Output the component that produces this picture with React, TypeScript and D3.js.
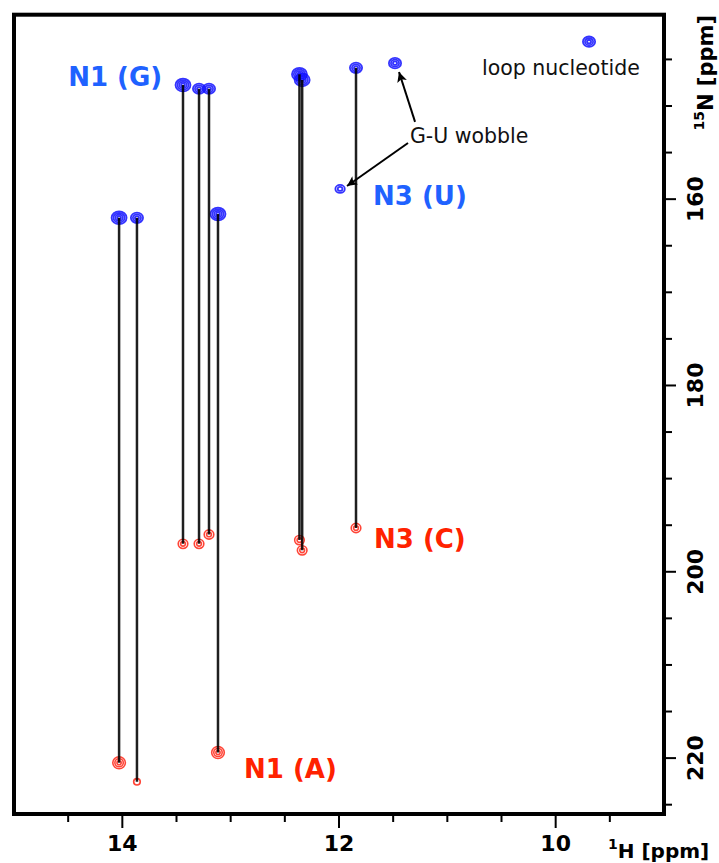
import React from 'react';
import * as d3 from 'd3';

// ---- Data (ppm) ----
// Base-pair cross peaks: donor (blue, N1 G / N3 U) and acceptor (red, N3 C / N1 A)
const pairH = [14.03, 13.865, 13.44, 13.292, 13.2, 13.117, 12.365, 12.34, 11.843];
const donorN = [162.0, 162.0, 147.75, 148.15, 148.15, 161.6, 146.6, 147.2, 145.9];
const acceptorN = [220.5, 222.55, 197.0, 197.0, 196.0, 219.4, 196.6, 197.7, 195.3];
const donorLevels = [4, 3, 4, 3, 3, 4, 4, 4, 3];
const acceptorLevels = [3, 1, 2, 2, 2, 3, 2, 2, 2];

// Unpaired donor peaks: G-U wobble (U N3), G-U wobble (G N1), loop nucleotide
const unpairedH = [11.99, 11.483, 9.692];
const unpairedN = [158.9, 145.4, 143.1];
const unpairedLevels = [2, 3, 3];

// Axes
const xDomain = [15.0, 9.0];
const yDomain = [140.2, 226.0];
const xTickLabels = [14, 12, 10];
const xMinorTicks = [9.5, 10, 10.5, 11, 11.5, 12, 12.5, 13, 13.5, 14, 14.5];
const yTickLabels = [160, 180, 200, 220];
const yMinorTicks = [145, 150, 155, 160, 165, 170, 175, 180, 185, 190, 195, 200, 205, 210, 215, 220, 225];

// Annotations
const bigLabels = ['N1 (G)', 'N3 (U)', 'N3 (C)', 'N1 (A)'];
const bigLabelH = [14.5, 11.686, 11.677, 12.877];
const bigLabelN = [147.85, 160.6, 197.4, 222.1];
const bigLabelKind = ['donor', 'donor', 'acceptor', 'acceptor'];

const noteLabels = ['loop nucleotide', 'G-U wobble'];
const noteH = [10.68, 11.345];
const noteN = [146.67, 154.0];

const arrowFromH = [11.298, 11.363];
const arrowFromN = [151.71, 153.97];
const arrowToH = [11.446, 11.926];
const arrowToN = [146.35, 158.59];

const BLUE = '#1010ff';
const RED = '#ff2414';
const LABEL_BLUE = '#1f62ff';
const LABEL_RED = '#ff2200';

function Peak({ cx, cy, levels, color, small }: { cx: number; cy: number; levels: number; color: string; small?: boolean }) {
  const rxOuter = small ? 1.8 + 1.5 * levels : 1.9 + 1.4 * levels;
  const ryOuter = small ? 1.8 + 1.4 * levels : 1.6 + 1.2 * levels;
  const rings = d3.range(levels);
  return (
    <g>
      {rings.map((i) => (
        <ellipse
          key={i}
          cx={cx}
          cy={cy}
          rx={Math.max(1, (rxOuter * (levels - i)) / levels)}
          ry={Math.max(1, (ryOuter * (levels - i)) / levels)}
          fill="none"
          stroke={color}
          strokeWidth={small ? 1.6 : 1.8}
          opacity={0.85}
        />
      ))}
    </g>
  );
}

export default function App() {
  const W = 719;
  const H = 863;
  const left = 14;
  const right = 664;
  const top = 14.7;
  const bottom = 814;
  const x = d3.scaleLinear().domain(xDomain).range([left, right]);
  const y = d3.scaleLinear().domain(yDomain).range([top, bottom]);
  const font = "'DejaVu Sans', Verdana, sans-serif";

  return (
    <svg width={W} height={H} style={{ position: 'absolute', left: 0, top: 0, background: '#fff' }} fontFamily={font}>
      <defs>
        <marker id="ah" viewBox="0 0 10 10" refX="10" refY="5" markerWidth="12" markerHeight="10" markerUnits="userSpaceOnUse" orient="auto">
          <path d="M0,0 L10,5 L0,10 L2.5,5 z" fill="#000" />
        </marker>
      </defs>

      {/* peaks */}
      {pairH.map((h, i) => (
        <Peak key={'d' + i} cx={x(h)} cy={y(donorN[i])} levels={donorLevels[i]} color={BLUE} />
      ))}
      {pairH.map((h, i) => (
        <Peak key={'a' + i} cx={x(h)} cy={y(acceptorN[i])} levels={acceptorLevels[i]} color={RED} small />
      ))}
      {unpairedH.map((h, i) => (
        <Peak key={'u' + i} cx={x(h)} cy={y(unpairedN[i])} levels={unpairedLevels[i]} color={BLUE} />
      ))}

      {/* connecting lines */}
      {pairH.map((h, i) => (
        <line key={'l' + i} x1={x(h)} x2={x(h)} y1={y(donorN[i])} y2={y(acceptorN[i])} stroke="#000" strokeWidth={2.5} strokeOpacity={0.88} />
      ))}

      {/* arrows */}
      {arrowFromH.map((h, i) => (
        <line key={'ar' + i} x1={x(h)} y1={y(arrowFromN[i])} x2={x(arrowToH[i])} y2={y(arrowToN[i])} stroke="#000" strokeWidth={2} markerEnd="url(#ah)" />
      ))}

      {/* labels */}
      {bigLabels.map((t, i) => (
        <text key={'bl' + i} x={x(bigLabelH[i])} y={y(bigLabelN[i])} fontSize={26} fontWeight="bold" fill={bigLabelKind[i] === 'donor' ? LABEL_BLUE : LABEL_RED}>
          {t}
        </text>
      ))}
      {noteLabels.map((t, i) => (
        <text key={'nl' + i} x={x(noteH[i])} y={y(noteN[i])} fontSize={20.5} fill="#111">
          {t}
        </text>
      ))}

      {/* frame */}
      <rect x={left} y={top} width={right - left} height={bottom - top} fill="none" stroke="#000" strokeWidth={4} />

      {/* x axis ticks */}
      {xMinorTicks.map((t) => {
        const major = xTickLabels.includes(t);
        return <line key={'xt' + t} x1={x(t)} x2={x(t)} y1={bottom} y2={bottom + (major ? 14 : 8)} stroke="#000" strokeWidth={2} />;
      })}
      {xTickLabels.map((t) => (
        <text key={'xl' + t} x={x(t)} y={851} textAnchor="middle" fontSize={22} fontWeight="bold" fill="#000">
          {t}
        </text>
      ))}
      <text x={608} y={858} fontWeight="bold" fill="#000">
        <tspan fontSize={14} dy={-9}>1</tspan>
        <tspan fontSize={20} dy={9}>H [ppm]</tspan>
      </text>

      {/* y axis ticks */}
      {yMinorTicks.map((t) => {
        const major = yTickLabels.includes(t);
        return <line key={'yt' + t} x1={right} x2={right + (major ? 12 : 8)} y1={y(t)} y2={y(t)} stroke="#000" strokeWidth={2} />;
      })}
      {yTickLabels.map((t) => (
        <text key={'yl' + t} transform={`translate(703,${y(t)}) rotate(-90)`} textAnchor="middle" fontSize={22} fontWeight="bold" fill="#000">
          {t}
        </text>
      ))}
      <text transform={`translate(713,15) rotate(-90)`} textAnchor="end" fontWeight="bold" fill="#000">
        <tspan fontSize={14} dy={-9}>15</tspan>
        <tspan fontSize={21} dy={9}>N [ppm]</tspan>
      </text>
    </svg>
  );
}
